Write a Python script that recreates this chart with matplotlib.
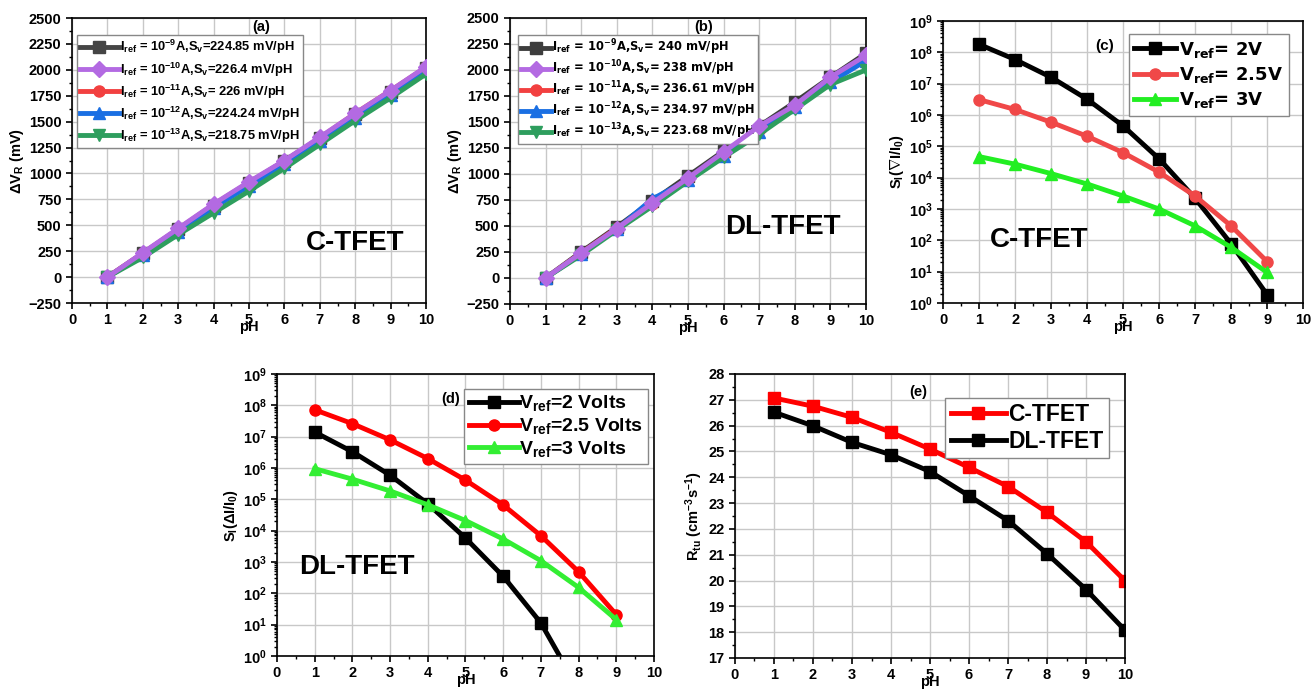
import numpy as np
import matplotlib
matplotlib.use('Agg')
import matplotlib.pyplot as plt
from matplotlib.ticker import MultipleLocator, LogLocator, NullFormatter

plt.rcParams['font.family'] = ['Liberation Sans', 'DejaVu Sans']
plt.rcParams['font.weight'] = 'bold'
plt.rcParams['axes.labelweight'] = 'bold'
plt.rcParams['mathtext.fontset'] = 'custom'
plt.rcParams['mathtext.rm'] = 'Liberation Sans:bold'
plt.rcParams['mathtext.it'] = 'Liberation Sans:bold'
plt.rcParams['mathtext.bf'] = 'Liberation Sans:bold'

# ---- data ----
ph10 = [1, 2, 3, 4, 5, 6, 7, 8, 9, 10]
ph9 = [1, 2, 3, 4, 5, 6, 7, 8, 9]

# (a) C-TFET, delta V_R (mV)
a_e9 = [0, 230, 460, 690, 910, 1120, 1340, 1570, 1790, 2020]
a_e10 = [0, 235, 470, 705, 920, 1125, 1350, 1580, 1800, 2030]
a_e11 = [0, 230, 465, 700, 915, 1120, 1345, 1580, 1800, 2025]
a_e12 = [0, 210, 440, 670, 880, 1090, 1310, 1540, 1760, 1990]
a_e13 = [0, 190, 410, 620, 830, 1050, 1280, 1510, 1730, 1960]
a_labels = [r'I$_\mathdefault{ref}$ = 10$^{\mathdefault{-9}}$A,S$_\mathdefault{v}$=224.85 mV/pH',
            r'I$_\mathdefault{ref}$ = 10$^{\mathdefault{-10}}$A,S$_\mathdefault{v}$=226.4 mV/pH',
            r'I$_\mathdefault{ref}$ = 10$^{\mathdefault{-11}}$A,S$_\mathdefault{v}$= 226 mV/pH',
            r'I$_\mathdefault{ref}$ = 10$^{\mathdefault{-12}}$A,S$_\mathdefault{v}$=224.24 mV/pH',
            r'I$_\mathdefault{ref}$ = 10$^{\mathdefault{-13}}$A,S$_\mathdefault{v}$=218.75 mV/pH']

# (b) DL-TFET, delta V_R (mV)
b_e9 = [0, 250, 490, 740, 980, 1220, 1460, 1690, 1930, 2160]
b_e10 = [0, 240, 475, 720, 960, 1210, 1460, 1660, 1930, 2140]
b_e11 = [0, 240, 480, 715, 950, 1190, 1420, 1650, 1900, 2100]
b_e12 = [0, 230, 470, 760, 940, 1170, 1400, 1640, 1880, 2090]
b_e13 = [0, 220, 460, 690, 930, 1160, 1380, 1620, 1860, 2000]
b_labels = [r'I$_\mathdefault{ref}$ = 10$^{\mathdefault{-9}}$A,S$_\mathdefault{v}$= 240 mV/pH',
            r'I$_\mathdefault{ref}$ = 10$^{\mathdefault{-10}}$A,S$_\mathdefault{v}$= 238 mV/pH',
            r'I$_\mathdefault{ref}$ = 10$^{\mathdefault{-11}}$A,S$_\mathdefault{v}$= 236.61 mV/pH',
            r'I$_\mathdefault{ref}$ = 10$^{\mathdefault{-12}}$A,S$_\mathdefault{v}$= 234.97 mV/pH',
            r'I$_\mathdefault{ref}$ = 10$^{\mathdefault{-13}}$A,S$_\mathdefault{v}$= 223.68 mV/pH']

# (c) C-TFET sensitivity
c_2v = [1.8e8, 5.9e7, 1.6e7, 3.2e6, 4.5e5, 4.0e4, 2.2e3, 78, 1.85]
c_25v = [3.1e6, 1.5e6, 5.9e5, 2.1e5, 6.3e4, 1.5e4, 2.6e3, 290, 21]
c_3v = [4.7e4, 2.7e4, 1.35e4, 6.3e3, 2.6e3, 1.0e3, 290, 60, 9.5]

# (d) DL-TFET sensitivity
d_ph_2v = [1, 2, 3, 4, 5, 6, 7, 8]
d_2v = [1.4e7, 3.3e6, 5.9e5, 7.2e4, 5.8e3, 350, 11.4, 0.087]
d_25v = [7.2e7, 2.6e7, 7.9e6, 2.0e6, 4.1e5, 6.6e4, 6.9e3, 490, 21]
d_3v = [9.5e5, 4.4e5, 1.85e5, 6.7e4, 2.1e4, 5.4e3, 1.1e3, 154, 14.5]

# (e) tunnelling rate
e_c = [27.07, 26.75, 26.32, 25.74, 25.09, 24.38, 23.64, 22.64, 21.5, 19.99]
e_dl = [26.52, 25.99, 25.35, 24.87, 24.22, 23.28, 22.32, 21.04, 19.65, 18.07]

fig = plt.figure(figsize=(13.12, 6.91), dpi=100)

def style(ax, tick_fs=10.5):
    ax.grid(True, color='#c8c8c8', lw=1)
    ax.set_axisbelow(True)
    ax.tick_params(which='major', direction='out', length=4, width=1.2, labelsize=tick_fs)
    ax.tick_params(which='minor', direction='out', length=2.5, width=1)
    for s in ax.spines.values():
        s.set_linewidth(1.2)
    ax.xaxis.set_major_locator(MultipleLocator(1))
    ax.xaxis.set_minor_locator(MultipleLocator(0.5))
    ax.set_xlim(0, 10)
    ax.set_xlabel('pH', fontsize=10.5, labelpad=-5)

def log_style(ax):
    ax.set_yscale('log')
    ax.set_ylim(1, 1e9)
    ax.yaxis.set_major_locator(LogLocator(base=10, numticks=12))
    ax.yaxis.set_minor_locator(LogLocator(base=10, subs=np.arange(2, 10), numticks=12))
    ax.yaxis.set_minor_formatter(NullFormatter())

# ---- (a) ----
ax = fig.add_axes([0.0549, 0.5615, 0.2698, 0.4124])
cols = ['#454545', '#b36ae2', '#f24040', '#1a6fe3', '#2e9e5e']
marks = ['s', 'D', 'o', '^', 'v']
zs = [2, 6, 3, 4, 5]
for ys, c, m, lab, z in zip([a_e9, a_e10, a_e11, a_e12, a_e13], cols, marks, a_labels, zs):
    ax.plot(ph10, ys, color=c, marker=m, lw=3.5, ms=8, label=lab, zorder=z)
style(ax)
ax.set_ylim(-250, 2500)
ax.yaxis.set_major_locator(MultipleLocator(250))
ax.yaxis.set_minor_locator(MultipleLocator(125))
ax.set_ylabel(r'$\Delta$V$_\mathdefault{R}$ (mV)', fontsize=10.5, labelpad=2)
ax.text(5.35, 2480, '(a)', ha='center', va='top', fontsize=10.5)
ax.text(6.6, 330, 'C-TFET', ha='left', va='center', fontsize=20)
ax.legend(loc='upper left', bbox_to_anchor=(0.01, 0.945), fontsize=9.3, handlelength=3.0,
          handletextpad=0.1, borderpad=0.25, labelspacing=0.3, borderaxespad=0.1,
          fancybox=False, framealpha=1, edgecolor='#888888')

# ---- (b) ----
ax = fig.add_axes([0.3887, 0.5601, 0.2713, 0.4139])
cols = ['#3d3d3d', '#b36ae2', '#f24040', '#1a6fe3', '#2e9e5e']
for ys, c, m, lab, z in zip([b_e9, b_e10, b_e11, b_e12, b_e13], cols, marks, b_labels, zs):
    ax.plot(ph10, ys, color=c, marker=m, lw=3.5, ms=8, label=lab, zorder=z)
style(ax)
ax.set_ylim(-250, 2500)
ax.yaxis.set_major_locator(MultipleLocator(250))
ax.yaxis.set_minor_locator(MultipleLocator(125))
ax.set_ylabel(r'$\Delta$V$_\mathdefault{R}$ (mV)', fontsize=10.5, labelpad=2)
ax.text(5.45, 2480, '(b)', ha='center', va='top', fontsize=10.5)
ax.text(6.05, 490, 'DL-TFET', ha='left', va='center', fontsize=20)
ax.legend(loc='upper left', bbox_to_anchor=(0.02, 0.945), handlelength=2.6,
          handletextpad=0.1, borderpad=0.25, labelspacing=0.12, borderaxespad=0.1,
          fancybox=False, framealpha=1, edgecolor='#888888',
          prop={'family': 'DejaVu Sans', 'weight': 'bold', 'size': 8.3})

# ---- (c) ----
ax = fig.add_axes([0.7188, 0.5615, 0.2744, 0.4081])
ax.plot(ph9, c_2v, color='black', marker='s', lw=3.5, ms=8, label=r'V$_\mathdefault{ref}$= 2V')
ax.plot(ph9, c_25v, color='#f04848', marker='o', lw=3.5, ms=8, label=r'V$_\mathdefault{ref}$= 2.5V')
ax.plot(ph9, c_3v, color='#22ee22', marker='^', lw=3.5, ms=8, label=r'V$_\mathdefault{ref}$= 3V')
style(ax)
log_style(ax)
ax.set_ylabel(r'S$_\mathdefault{I}$($\nabla$I/I$_\mathdefault{0}$)', fontsize=10.5, labelpad=2)
ax.text(4.5, 10**8.2, '(c)', ha='center', va='center', fontsize=11)
ax.text(1.3, 1e2, 'C-TFET', ha='left', va='center', fontsize=20)
ax.legend(loc='upper right', bbox_to_anchor=(0.965, 0.96), handlelength=2.3,
          handletextpad=0.2, borderpad=0.3, labelspacing=0.3, borderaxespad=0.1,
          fancybox=False, framealpha=1, edgecolor='#888888',
          prop={'family': 'DejaVu Sans', 'weight': 'bold', 'size': 13})

# ---- (d) ----
ax = fig.add_axes([0.2111, 0.0507, 0.2873, 0.4081])
ax.plot(d_ph_2v, d_2v, color='black', marker='s', lw=3.5, ms=8, label=r'V$_\mathdefault{ref}$=2 Volts')
ax.plot(ph9, d_25v, color='#ff0000', marker='o', lw=3.5, ms=8, label=r'V$_\mathdefault{ref}$=2.5 Volts')
ax.plot(ph9, d_3v, color='#33ee33', marker='^', lw=3.5, ms=8, label=r'V$_\mathdefault{ref}$=3 Volts')
style(ax)
log_style(ax)
ax.set_ylabel(r'S$_\mathdefault{I}$($\Delta$I/I$_\mathdefault{0}$)', fontsize=10.5, labelpad=2)
ax.text(4.6, 10**8.2, '(d)', ha='center', va='center', fontsize=10.5)
ax.text(0.6, 10**2.84, 'DL-TFET', ha='left', va='center', fontsize=20)
ax.legend(loc='upper right', bbox_to_anchor=(0.99, 0.955), handlelength=2.6,
          handletextpad=0.0, borderpad=0.25, labelspacing=0.15, borderaxespad=0.1,
          fancybox=False, framealpha=1, edgecolor='#888888', fontsize=14)

# ---- (e) ----
ax = fig.add_axes([0.5602, 0.0478, 0.2973, 0.411])
ax.plot(ph10, e_c, color='#ff0000', marker='s', lw=3.5, ms=8, label='C-TFET')
ax.plot(ph10, e_dl, color='black', marker='s', lw=3.5, ms=8, label='DL-TFET')
style(ax)
ax.set_ylim(17, 28)
ax.yaxis.set_major_locator(MultipleLocator(1))
ax.yaxis.set_minor_locator(MultipleLocator(0.5))
ax.set_ylabel(r'R$_\mathdefault{tu}$ (cm$^{\mathdefault{-3}}$s$^{\mathdefault{-1}}$)', fontsize=10.5, labelpad=2)
ax.text(4.7, 27.3, '(e)', ha='center', va='center', fontsize=10.5)
ax.legend(loc='upper right', bbox_to_anchor=(0.965, 0.925), handlelength=2.4,
          handletextpad=0.1, borderpad=0.25, labelspacing=0.15, borderaxespad=0.1,
          fancybox=False, framealpha=1, edgecolor='#888888', fontsize=16.5)

fig.savefig('out.png', dpi=100)
